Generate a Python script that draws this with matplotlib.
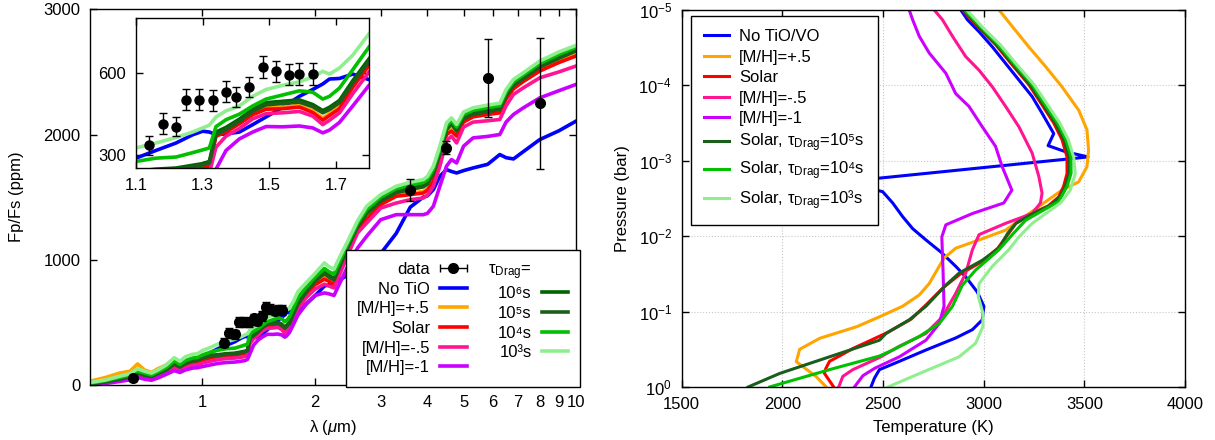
import numpy as np
import matplotlib.pyplot as plt
from matplotlib.ticker import NullLocator
from matplotlib.container import ErrorbarContainer
from matplotlib.collections import LineCollection
from matplotlib.lines import Line2D
from matplotlib.legend_handler import HandlerErrorbar

plt.rcParams["font.family"] = ["Liberation Sans", "DejaVu Sans"]
plt.rcParams["font.size"] = 12
plt.rcParams["mathtext.fontset"] = "custom"
plt.rcParams["mathtext.rm"] = "Liberation Sans"
plt.rcParams["mathtext.it"] = "Liberation Sans:italic"
plt.rcParams["mathtext.bf"] = "Liberation Sans:bold"

# ---- emission spectra (ppm) on a common wavelength grid (um) ----
lam = [0.50, 0.55, 0.60, 0.64, 0.67, 0.70, 0.73, 0.76, 0.80, 0.84, 0.87, 0.90, 0.94, 0.97, 1.00, 1.05,
       1.10, 1.16, 1.22, 1.27, 1.30, 1.32, 1.34, 1.37, 1.41, 1.45, 1.49, 1.54, 1.59, 1.63, 1.66, 1.68, 1.71, 1.75, 1.80,
       1.90, 2.00, 2.12, 2.18, 2.25, 2.32, 2.45, 2.60, 2.75, 3.00, 3.30, 3.60, 3.90, 4.00, 4.15, 4.32, 4.50, 4.64,
       4.79, 5.00, 5.30, 5.80, 6.25, 6.50, 6.80, 7.20, 8.00, 9.00, 10.0]

fp_notio = [8, 25, 48, 65, 88, 82, 75, 95, 122, 155, 150, 172, 192, 205, 228, 258,
            290, 318, 345, 375, 388, 385, 376, 378, 385, 412, 440, 475, 515, 540, 560, 578, 580, 596, 575,
            650, 712, 790, 800, 815, 835, 880, 930, 985, 1050, 1210, 1420, 1500, 1510, 1560, 1667, 1720, 1705,
            1693, 1712, 1733, 1762, 1840, 1815, 1805, 1860, 1960, 2030, 2107]
fp_mh_p05 = [30, 60, 95, 110, 168, 120, 100, 130, 160, 210, 170, 185, 195, 198, 208, 222,
             232, 240, 243, 252, 258, 266, 376, 391, 421, 454, 474, 476, 482, 462, 436, 452, 478, 555, 637,
             735, 812, 858, 840, 812, 915, 1080, 1238, 1332, 1452, 1519, 1532, 1545, 1568, 1640, 1812, 2012, 2040,
             2000, 2115, 2155, 2172, 2187, 2300, 2378, 2432, 2520, 2588, 2640]
fp_solar = [8, 25, 45, 62, 95, 74, 62, 86, 115, 160, 136, 162, 180, 186, 200, 215,
            228, 236, 239, 247, 253, 262, 370, 385, 415, 448, 468, 470, 476, 456, 428, 445, 470, 548, 630,
            725, 800, 845, 828, 800, 900, 1070, 1227, 1320, 1440, 1507, 1520, 1533, 1555, 1627, 1800, 2000, 2027,
            1987, 2100, 2141, 2160, 2173, 2285, 2365, 2420, 2507, 2575, 2627]
fp_mh_m05 = [5, 18, 35, 50, 75, 56, 46, 66, 100, 135, 115, 140, 158, 163, 175, 190,
             203, 212, 215, 222, 228, 235, 330, 370, 398, 433, 452, 455, 460, 443, 412, 428, 455, 525, 606,
             700, 765, 805, 790, 775, 870, 1040, 1213, 1293, 1413, 1453, 1480, 1493, 1515, 1587, 1747, 1950, 1987,
             1933, 2060, 2099, 2110, 2120, 2230, 2320, 2370, 2453, 2500, 2547]
fp_mh_m1 = [3, 12, 28, 42, 62, 46, 38, 56, 85, 115, 100, 120, 135, 138, 147, 160,
            172, 180, 183, 190, 195, 205, 250, 318, 360, 385, 405, 404, 407, 400, 382, 392, 420, 480, 557,
            650, 715, 735, 728, 715, 800, 950, 1093, 1187, 1320, 1360, 1360, 1360, 1370, 1427, 1587, 1747, 1800,
            1773, 1907, 1973, 1985, 2000, 2100, 2160, 2210, 2293, 2350, 2400]
fp_drag6 = [10, 28, 50, 70, 100, 82, 70, 95, 125, 172, 148, 176, 196, 202, 221, 236,
            242, 250, 254, 264, 270, 278, 385, 402, 432, 468, 492, 497, 502, 485, 463, 475, 500, 572, 654,
            755, 840, 900, 875, 850, 945, 1110, 1275, 1380, 1480, 1547, 1573, 1595, 1618, 1700, 1860, 2050, 2095,
            2040, 2140, 2173, 2195, 2213, 2320, 2405, 2455, 2550, 2620, 2680]
fp_drag5 = [9, 26, 47, 66, 96, 78, 67, 91, 120, 167, 143, 170, 190, 196, 214, 230,
            237, 245, 249, 259, 265, 272, 375, 394, 424, 460, 484, 489, 494, 477, 455, 467, 492, 563, 645,
            745, 828, 888, 863, 838, 932, 1098, 1262, 1366, 1467, 1535, 1561, 1582, 1605, 1688, 1848, 2038, 2082,
            2028, 2128, 2161, 2183, 2200, 2308, 2392, 2442, 2538, 2608, 2668]
fp_drag4 = [15, 35, 60, 80, 112, 95, 80, 105, 140, 192, 165, 195, 215, 220, 240, 262,
            278, 290, 294, 310, 320, 327, 405, 430, 450, 480, 505, 520, 535, 530, 505, 515, 545, 612, 697,
            785, 860, 930, 905, 885, 975, 1130, 1290, 1400, 1500, 1567, 1596, 1617, 1640, 1722, 1882, 2070, 2112,
            2060, 2160, 2193, 2215, 2230, 2340, 2422, 2472, 2567, 2640, 2695]
fp_drag3 = [20, 40, 70, 90, 130, 110, 95, 120, 160, 218, 190, 225, 245, 250, 275, 300,
            327, 345, 365, 385, 400, 410, 440, 462, 480, 515, 540, 555, 568, 585, 606, 596, 618, 665, 745,
            820, 890, 975, 945, 925, 1010, 1150, 1310, 1427, 1520, 1587, 1619, 1640, 1665, 1747, 1907, 2093, 2133,
            2080, 2180, 2213, 2235, 2250, 2360, 2440, 2490, 2587, 2660, 2712]

# ---- observations ----
wfc3_lam = [1.14, 1.18, 1.22, 1.25, 1.29, 1.33, 1.37, 1.40, 1.44, 1.48, 1.52, 1.56, 1.59, 1.63]
wfc3_fp = [336, 415, 405, 503, 503, 500, 531, 513, 549, 622, 606, 594, 597, 596]
wfc3_err = [36, 38, 36, 38, 38, 37, 38, 37, 38, 40, 39, 39, 40, 40]
phot_lam = [0.65, 3.6, 4.5, 5.8, 8.0]
phot_fp = [54, 1555, 1896, 2450, 2248]
phot_err = [20, 89, 50, 310, 522]

# ---- temperature profiles: log10 P (bar) and T (K) ----
logp_notio = [-5.0, -4.87, -4.71, -4.51, -4.29, -4.07, -3.85, -3.63, -3.36, -3.20, -3.12, -3.05, -2.72, -2.59, -2.44,
              -2.26, -2.10, -1.95, -1.79, -1.60, -1.46, -1.26, -1.07, -0.89, -0.76, -0.65, -0.49, -0.34, -0.23,
              -0.115, 0.0]
t_notio = [2886, 2919, 2977, 3043, 3109, 3175, 3241, 3290, 3348, 3320, 3406, 3518, 2300, 2498, 2548,
           2597, 2647, 2713, 2787, 2861, 2911, 2968, 3001, 2993, 2944, 2861, 2713, 2581, 2482,
           2457, 2440]
logp_mh_p05 = [-5.0, -4.78, -4.51, -4.25, -3.98, -3.67, -3.41, -3.14, -2.92, -2.72, -2.61, -2.33, -2.08, -1.95,
               -1.84, -1.71, -1.37, -1.22, -1.07, -0.93, -0.80, -0.645, -0.50, -0.336, -0.27, -0.137, 0.0]
t_mh_p05 = [3076, 3142, 3224, 3307, 3389, 3472, 3513, 3521, 3513, 3472, 3389, 3241, 3109, 2977,
            2861, 2803, 2729, 2680, 2597, 2482, 2370, 2185, 2086, 2069, 2102, 2168, 2218]
logp_solar = [-5.0, -4.76, -4.54, -4.27, -4.01, -3.74, -3.50, -3.28, -3.05, -2.83, -2.66, -2.52, -2.40, -2.30,
              -2.17, -2.04, -1.84, -1.66, -1.50, -1.32, -1.10, -0.90, -0.72, -0.62, -0.51, -0.42, -0.34, -0.24,
              -0.18, 0.0]
t_solar = [2894, 2977, 3059, 3142, 3224, 3290, 3348, 3389, 3414, 3414, 3397, 3373, 3320, 3240,
           3160, 3125, 3070, 2990, 2885, 2800, 2718, 2640, 2520, 2440, 2350, 2290, 2234, 2215,
           2209, 2255]
logp_mh_m05 = [-5.0, -4.87, -4.65, -4.38, -4.20, -3.98, -3.72, -3.45, -3.10, -2.79, -2.57, -2.44, -2.30, -2.17,
               -2.02, -1.82, -1.51, -1.24, -0.93, -0.71, -0.54, -0.39, -0.23, -0.14, 0.0]
t_mh_m05 = [2754, 2795, 2845, 2911, 2977, 3043, 3109, 3175, 3241, 3274, 3290, 3282, 3241, 3109,
            2977, 2944, 2911, 2861, 2795, 2713, 2581, 2482, 2350, 2300, 2280]
logp_mh_m1 = [-5.0, -4.87, -4.65, -4.43, -4.16, -3.89, -3.72, -3.45, -3.19, -2.92, -2.61, -2.44, -2.30, -2.15,
              -1.99, -1.55, -1.07, -0.84, -0.62, -0.40, -0.25, -0.15, 0.0]
t_mh_m1 = [2630, 2647, 2680, 2729, 2812, 2861, 2927, 2993, 3059, 3092, 3140, 3100, 2944, 2812,
           2792, 2798, 2803, 2779, 2713, 2581, 2460, 2400, 2358]
logp_drag5 = [-5.0, -4.76, -4.54, -4.27, -4.01, -3.74, -3.50, -3.28, -3.05, -2.83, -2.66, -2.52, -2.40, -2.30,
              -2.17, -2.04, -1.84, -1.68, -1.51, -1.35, -1.07, -0.89, -0.71, -0.62, -0.40, -0.18, 0.0]
t_drag5 = [2898, 2982, 3064, 3148, 3230, 3297, 3356, 3398, 3424, 3424, 3405, 3380, 3325, 3245,
           3160, 3120, 3076, 2993, 2878, 2812, 2713, 2630, 2515, 2482, 2234, 1987, 1830]
logp_drag4 = [-5.0, -4.76, -4.54, -4.27, -4.01, -3.74, -3.50, -3.28, -3.05, -2.83, -2.66, -2.46, -2.21, -2.02,
              -1.82, -1.55, -1.35, -1.07, -0.84, -0.67, -0.49, -0.41, -0.23, 0.0]
t_drag4 = [2905, 2990, 3072, 3156, 3240, 3306, 3366, 3408, 3434, 3434, 3414, 3373, 3208, 3142,
           3076, 2960, 2894, 2845, 2779, 2680, 2548, 2482, 2234, 1937]
logp_drag3 = [-5.0, -4.76, -4.54, -4.27, -4.01, -3.74, -3.50, -3.28, -3.05, -2.83, -2.61, -2.44, -2.17, -1.99,
              -1.82, -1.60, -1.37, -1.20, -0.98, -0.80, -0.58, -0.40, -0.27, -0.14, 0.0]
t_drag3 = [2915, 2998, 3082, 3166, 3250, 3318, 3378, 3420, 3447, 3455, 3430, 3381, 3241, 3175,
           3125, 3043, 2977, 2973, 2996, 2996, 2960, 2878, 2762, 2647, 2525]

c_notio = "#0000ff"
c_p05 = "#ffa500"
c_solar = "#ff0000"
c_m05 = "#ff1493"
c_m1 = "#cc00ff"
c_d6 = "#006400"
c_d5 = "#1b5e1b"
c_d4 = "#00c000"
c_d3 = "#90ee90"

spectra = [
    (fp_notio, c_notio, "No TiO"),
    (fp_mh_p05, c_p05, "[M/H]=+.5"),
    (fp_solar, c_solar, "Solar"),
    (fp_mh_m05, c_m05, "[M/H]=-.5"),
    (fp_mh_m1, c_m1, "[M/H]=-1"),
    (fp_drag6, c_d6, "10⁶s"),
    (fp_drag5, c_d5, "10⁵s"),
    (fp_drag4, c_d4, "10⁴s"),
    (fp_drag3, c_d3, "10³s"),
]


def style_axis(ax):
    ax.tick_params(which="both", direction="in", top=True, right=True,
                   length=5, width=1, pad=7)
    for sp in ax.spines.values():
        sp.set_linewidth(1.0)


fig = plt.figure(figsize=(12.15, 4.4), dpi=100)

# left: emission spectrum
ax1 = fig.add_axes([0.0741, 0.125, 0.4, 0.8539])
lines = []
for fp, col, lab in spectra:
    ln, = ax1.plot(lam, fp, color=col, lw=2.6, label=lab)
    lines.append(ln)
ax1.errorbar(wfc3_lam, wfc3_fp, yerr=wfc3_err, fmt="o", color="k", ms=7,
             elinewidth=1, capsize=3, zorder=4)
ax1.errorbar(phot_lam, phot_fp, yerr=phot_err, fmt="o", color="k", ms=7,
             elinewidth=1, capsize=3, zorder=4)
ax1.set_xscale("log")
ax1.set_xlim(0.5, 10)
ax1.set_ylim(0, 3000)
ax1.set_xticks([1, 2, 3, 4, 5, 6, 7, 8, 9, 10])
ax1.set_xticklabels(["1", "2", "3", "4", "5", "6", "7", "8", "9", "10"])
ax1.xaxis.set_minor_locator(NullLocator())
ax1.set_yticks([0, 1000, 2000, 3000])
style_axis(ax1)
ax1.set_xlabel(r"λ ($\mu$m)", labelpad=6)
ax1.set_ylabel("Fp/Fs (ppm)", labelpad=14)

# legend key for the data: dot with horizontal error bar
dot = Line2D([], [], ls="none", marker="o", ms=7, color="k")
cap = Line2D([], [], ls="none", marker="|", ms=6, mew=1, color="k")
bar = LineCollection([], colors="k", linewidths=1)
data_key = ErrorbarContainer((dot, (cap, cap), (bar,)), has_xerr=True,
                             has_yerr=False, label="data")
tau_head = Line2D([], [], ls="none")

handles = [data_key] + lines[:5] + [tau_head] + lines[5:]
labels = ["data", "No TiO", "[M/H]=+.5", "Solar", "[M/H]=-.5", "[M/H]=-1",
          r"τ$_{\rm Drag}$="] + [s[2] for s in spectra[5:]]
leg1 = ax1.legend(handles, labels, ncol=2, markerfirst=False, loc="lower right",
                  bbox_to_anchor=(1.008, -0.005), borderaxespad=0, fancybox=False,
                  edgecolor="k", framealpha=1, handlelength=1.6, handletextpad=0.6,
                  labelspacing=0.28, columnspacing=1.3, borderpad=0.7,
                  handler_map={ErrorbarContainer: HandlerErrorbar(xerr_size=0.8)})
leg1.get_frame().set_linewidth(1.0)

# inset: WFC3 band
axin = fig.add_axes([0.1119, 0.6175, 0.1922, 0.3409])
for fp, col, lab in spectra:
    axin.plot(lam, fp, color=col, lw=2.6)
axin.errorbar(wfc3_lam, wfc3_fp, yerr=wfc3_err, fmt="o", color="k", ms=6.5,
              elinewidth=1, capsize=3, zorder=4)
axin.set_xlim(1.1, 1.8)
axin.set_ylim(253, 799)
axin.set_xticks([1.1, 1.3, 1.5, 1.7])
axin.set_yticks([300, 600])
style_axis(axin)

# right: temperature-pressure profiles
ax2 = fig.add_axes([0.5611, 0.1205, 0.4142, 0.857])
profiles = [
    (t_notio, logp_notio, c_notio, "No TiO/VO"),
    (t_mh_p05, logp_mh_p05, c_p05, "[M/H]=+.5"),
    (t_solar, logp_solar, c_solar, "Solar"),
    (t_mh_m05, logp_mh_m05, c_m05, "[M/H]=-.5"),
    (t_mh_m1, logp_mh_m1, c_m1, "[M/H]=-1"),
    (t_drag5, logp_drag5, c_d5, r"Solar, τ$_{\rm Drag}$=10⁵s"),
    (t_drag4, logp_drag4, c_d4, r"Solar, τ$_{\rm Drag}$=10⁴s"),
    (t_drag3, logp_drag3, c_d3, r"Solar, τ$_{\rm Drag}$=10³s"),
]
for t, lp, col, lab in profiles:
    ax2.plot(t, 10.0 ** np.array(lp), color=col, lw=2.2, label=lab)
ax2.set_yscale("log")
ax2.set_xlim(1500, 4000)
ax2.set_ylim(1, 1e-5)
ax2.set_xticks([1500, 2000, 2500, 3000, 3500, 4000])
ax2.set_yticks([1e0, 1e-1, 1e-2, 1e-3, 1e-4, 1e-5])
ax2.yaxis.set_minor_locator(NullLocator())
ax2.grid(True, ls=":", color="#c8c8c8", lw=0.8)
ax2.set_axisbelow(True)
style_axis(ax2)
ax2.set_xlabel("Temperature (K)", labelpad=6)
ax2.set_ylabel("Pressure (bar)", labelpad=6)
leg2 = ax2.legend(loc="upper left", bbox_to_anchor=(0.018, 0.984), borderaxespad=0,
                  fancybox=False, edgecolor="k", framealpha=1, handlelength=1.5,
                  handletextpad=0.6, labelspacing=0.33, borderpad=0.8)
leg2.get_frame().set_linewidth(1.0)

fig.savefig("out.png", dpi=100)
